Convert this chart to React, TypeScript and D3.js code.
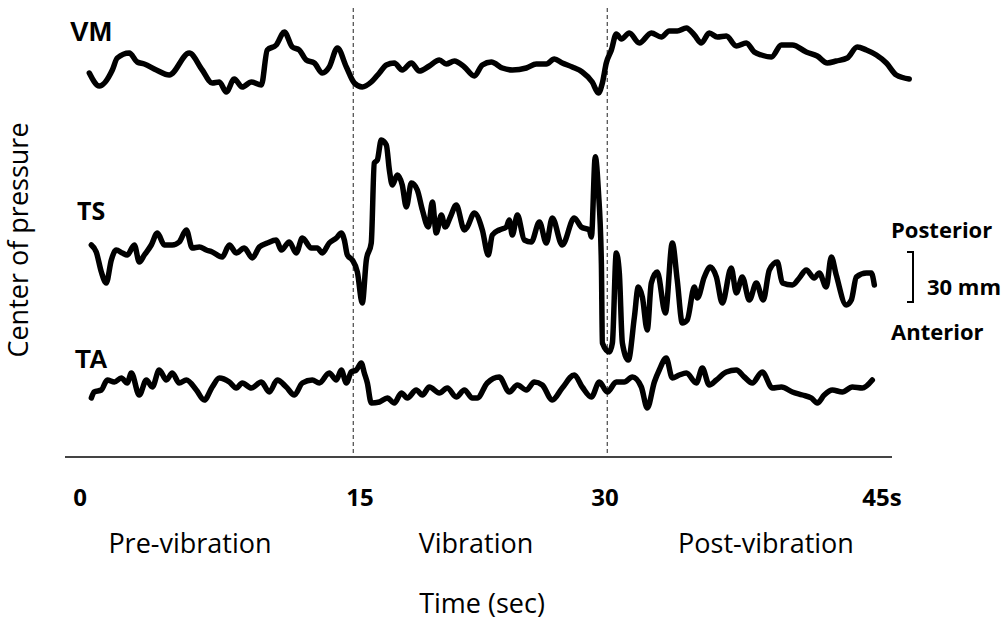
import React from "react";
import * as d3 from "d3";

// ---------- DATA (time in s, centre-of-pressure in mm, relative to each trace's own baseline) ----------
const vmData: [number, number][] = [
  [-0.59,16.2],[0,8.4],[0.77,18],[1.06,25.2],[1.77,28.2],[2.24,22.8],[2.66,21.6],[3.37,18],[4.13,15],[5.31,28.2],[6.08,18],[6.67,10.2],[7.09,10.8],[7.5,4.8],[7.97,12.6],[8.44,7.8],[8.98,10.8],[9.57,9],[9.92,30],[10.45,33],[10.93,40.8],[11.4,31.8],[11.81,30],[12.22,24],[12.7,22.2],[13.17,16.2],[13.58,19.8],[14.06,31.2],[14.59,19.8],[15.06,10.2],[15.53,7.8],[16.06,10.8],[16.54,16.2],[16.95,21],[17.42,22.2],[17.89,18],[18.43,22.2],[18.9,17.4],[19.49,20.4],[20.08,24],[20.49,21.6],[20.97,23.4],[21.56,19.8],[22.15,14.4],[22.62,21],[23.15,22.8],[23.8,19.2],[24.39,18],[25.22,19.2],[25.81,21.6],[26.4,21.6],[26.87,24.6],[27.34,22.2],[27.93,19.8],[28.52,16.8],[29.11,10.8],[29.47,4.2],[29.71,10.2],[29.94,22.2],[30.24,30],[30.53,39.6],[30.83,36.6],[31.3,40.2],[31.89,34.2],[32.6,40.2],[33.19,37.8],[33.66,41.4],[34.13,41.4],[34.67,43.2],[35.14,39],[35.55,34.2],[36.02,40.2],[36.5,37.8],[37.03,38.4],[37.62,32.4],[38.21,34.2],[38.68,28.8],[39.1,27],[39.69,25.8],[40.28,33],[40.93,33],[41.75,28.8],[42.4,26.4],[42.99,22.2],[43.52,23.4],[44.17,25.2],[44.76,31.8],[45.3,30],[45.89,27],[46.48,22.2],[47.07,15],[47.83,12.6],
];

const tsData: [number, number][] = [
  [-0.47,33],[-0.18,28.8],[0.12,16.8],[0.41,10.2],[0.71,24],[1.0,30],[1.36,28.2],[1.65,27],[2.07,33],[2.36,22.8],[2.66,27],[3.07,33],[3.43,40.2],[3.84,33],[4.31,33],[4.72,34.8],[5.14,42],[5.49,31.2],[5.91,31.8],[6.32,30],[6.67,28.8],[7.26,25.8],[7.68,33],[8.09,28.2],[8.56,31.2],[9.04,25.2],[9.45,31.8],[9.92,34.2],[10.45,36],[10.75,30],[11.22,34.8],[11.63,28.2],[11.99,37.2],[12.52,31.2],[12.87,31.2],[13.17,28.2],[13.58,34.2],[14.0,37.2],[14.29,40.2],[14.47,36],[14.65,27],[14.94,24],[15.24,16.8],[15.53,-1.8],[15.77,24],[16.06,34.2],[16.24,82.2],[16.42,84],[16.65,96],[16.95,93],[17.13,78],[17.3,69],[17.6,75],[17.89,69],[18.13,55.8],[18.43,70.2],[18.78,66],[19.08,54],[19.43,43.8],[19.67,58.8],[19.9,40.2],[20.2,51],[20.43,43.8],[20.73,49.8],[21.08,57],[21.56,42],[21.73,43.8],[22.15,52.2],[22.62,42],[22.97,27],[23.21,39],[23.62,42],[24.04,43.8],[24.21,48],[24.39,39],[24.69,51],[25.1,36],[25.51,34.8],[25.99,46.8],[26.4,34.2],[26.75,49.2],[27.34,33],[28.05,49.2],[28.46,43.8],[28.94,42],[29.06,37.8],[29.29,86],[29.47,66],[29.65,22.2],[29.71,-25.8],[30.12,-31.2],[30.3,-25.8],[30.53,28.2],[30.71,16.2],[30.89,-25.8],[31.24,-36],[31.6,-10.2],[31.83,7.8],[32.07,1.8],[32.36,-18],[32.6,10.2],[32.95,16.8],[33.43,-7.8],[33.84,34.2],[34.13,12],[34.43,-13.8],[34.72,-12],[35.14,7.8],[35.32,1.2],[35.73,13.8],[36.08,19.8],[36.44,13.8],[36.79,-1.8],[37.32,19.2],[37.62,4.2],[37.97,13.8],[38.39,0],[38.8,10.2],[39.21,0],[39.57,18],[40.04,22.8],[40.34,10.2],[40.93,9],[41.34,13.2],[41.75,18],[42.22,13.2],[42.52,16.2],[42.93,7.8],[43.23,25.8],[43.52,15],[44.11,-3],[44.41,0],[44.71,13.8],[45.3,16.2],[45.59,16.2],[45.77,9],
];

const taData: [number, number][] = [
  [-0.47,13.2],[-0.3,16.8],[0.12,18],[0.47,24],[0.89,22.8],[1.3,25.2],[1.65,22.2],[1.89,28.2],[2.36,15],[2.78,24],[3.13,19.8],[3.54,30],[3.96,24],[4.31,28.2],[4.72,22.2],[5.14,24],[5.73,18],[6.2,12],[6.67,19.8],[7.09,25.2],[7.68,22.8],[8.09,19.2],[8.44,22.2],[8.98,19.2],[9.57,22.8],[10.04,16.8],[10.51,24],[11.04,19.8],[11.52,15],[11.99,22.2],[12.58,24],[12.99,22.2],[13.58,28.2],[14.0,24],[14.29,30],[14.59,22.2],[14.88,28.8],[15.18,30],[15.47,34.2],[15.65,28.2],[15.83,22.2],[16.06,10.2],[16.54,10.8],[17.01,13.2],[17.42,10.2],[17.84,16.2],[18.19,13.2],[18.72,18],[19.08,15],[19.49,19.8],[20.08,16.2],[20.55,19.2],[21.08,13.8],[21.56,18],[22.03,13.2],[22.32,13.2],[22.91,22.2],[23.62,25.8],[24.21,16.8],[24.69,21],[25.22,18],[25.69,22.8],[26.16,21],[26.75,12],[27.34,19.2],[28.05,27],[28.52,19.8],[29.06,13.8],[29.53,22.8],[30.0,16.8],[30.53,22.8],[31.0,22.8],[31.48,25.8],[32.01,19.8],[32.36,7.2],[32.78,22.8],[33.07,30],[33.48,37.2],[33.84,25.2],[34.25,27],[34.67,28.2],[35.26,22.2],[35.61,31.2],[36.02,21],[36.44,24],[37.03,28.8],[37.62,30],[38.09,25.8],[38.56,22.2],[39.15,28.8],[39.75,19.2],[40.28,19.8],[40.93,16.8],[41.52,15],[42.05,13.2],[42.4,10.2],[42.81,15],[43.29,18],[43.88,16.8],[44.47,19.8],[45.06,19.2],[45.65,24],
];

const traceNames = ["VM", "TS", "TA"];
const phaseBoundaries = [15, 30];
const tickValues = [0, 15, 30, 45];
const tickLabels = ["0", "15", "30", "45s"];
const phaseNames = ["Pre-vibration", "Vibration", "Post-vibration"];
const phaseCenters = [7.5, 22.5, 37.5];
const scaleBarMM = 30;

// ---------- LAYOUT ----------
const W = 1006, H = 631;
const PX_PER_MM = 50 / 30;
const x = d3.scaleLinear().domain([0, 45]).range([99.3, 861.3]);
const tickX = d3.scaleLinear().domain([0, 15, 30, 45]).range([80, 360, 605, 882]);
const phaseX = d3.scaleLinear().domain([7.5, 22.5, 37.5]).range([190, 476, 766]);
const mkY = (base: number) => d3.scaleLinear().domain([0, 30]).range([base, base - 30 * PX_PER_MM]);
const yVM = mkY(100), yTS = mkY(300), yTA = mkY(420);
const yBar = d3.scaleLinear().domain([0, 30]).range([302, 252]);
const AXIS_Y = 457;

const CAL = "'Open Sans', 'DejaVu Sans', sans-serif";
const ARIAL = "'Liberation Sans', Arial, sans-serif";

export default function App() {
  const traces = [
    { data: vmData, y: yVM },
    { data: tsData, y: yTS },
    { data: taData, y: yTA },
  ];
  const lineFor = (ys: d3.ScaleLinear<number, number>) =>
    d3.line<[number, number]>().x(d => x(d[0])).y(d => ys(d[1])).curve(d3.curveMonotoneX);

  return (
    <svg width={W} height={H} style={{ position: "absolute", left: 0, top: 0, background: "#fff" }}>
      {/* phase boundaries */}
      {phaseBoundaries.map(t => (
        <line key={t} x1={x(t)} x2={x(t)} y1={8} y2={AXIS_Y} stroke="#555" strokeWidth={1.3} strokeDasharray="4,3" />
      ))}
      {/* axis line */}
      <line x1={65} x2={892} y1={AXIS_Y} y2={AXIS_Y} stroke="#444" strokeWidth={2} />
      {/* traces */}
      {traces.map((tr, i) => (
        <path key={i} d={lineFor(tr.y)(tr.data) || ""} fill="none" stroke="#000" strokeWidth={5.5}
          strokeLinejoin="round" strokeLinecap="round" />
      ))}
      {/* trace labels */}
      <text x={70} y={41} fontFamily={ARIAL} fontWeight="bold" fontSize={28}>{traceNames[0]}</text>
      <text x={77} y={220} fontFamily={CAL} fontWeight="bold" fontSize={25}>{traceNames[1]}</text>
      <text x={75} y={368} fontFamily={ARIAL} fontWeight="bold" fontSize={26}>{traceNames[2]}</text>
      {/* tick labels */}
      {tickValues.map((t, i) => (
        <text key={t} x={tickX(t)} y={506} textAnchor="middle" fontFamily={CAL} fontWeight="bold" fontSize={24}>{tickLabels[i]}</text>
      ))}
      {/* phase labels */}
      {phaseNames.map((p, i) => (
        <text key={p} x={phaseX(phaseCenters[i])} y={553} textAnchor="middle" fontFamily={CAL} fontSize={27}>{p}</text>
      ))}
      <text x={482} y={613} textAnchor="middle" fontFamily={CAL} fontSize={27}>Time (sec)</text>
      <text transform="translate(28,240) rotate(-90)" textAnchor="middle" fontFamily={CAL} fontSize={27}>Center of pressure</text>
      {/* scale bar */}
      <path d={`M907,${yBar(scaleBarMM)}H913V${yBar(0)}H907`} fill="none" stroke="#000" strokeWidth={2} />
      <text x={891} y={238} fontFamily={CAL} fontWeight="bold" fontSize={22}>Posterior</text>
      <text x={927} y={295} fontFamily={CAL} fontWeight="bold" fontSize={22}>{`${scaleBarMM} mm`}</text>
      <text x={891} y={340} fontFamily={CAL} fontWeight="bold" fontSize={22}>Anterior</text>
    </svg>
  );
}
